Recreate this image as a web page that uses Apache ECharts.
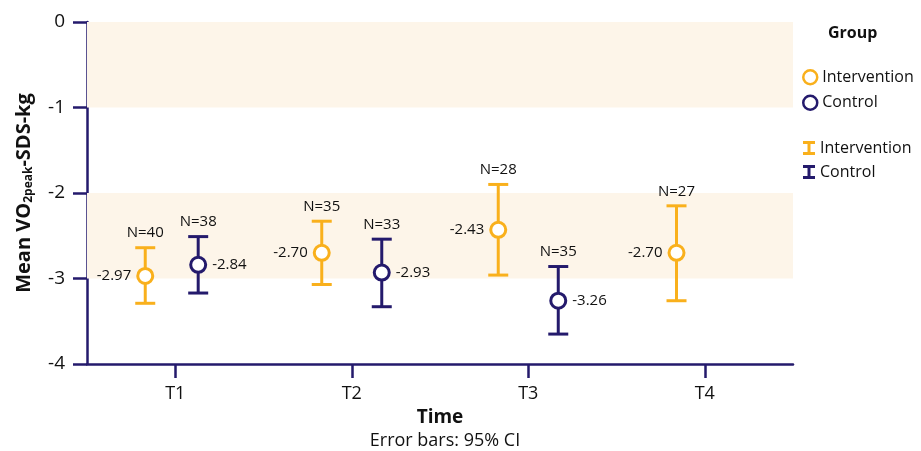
<!DOCTYPE html>
<html>
<head>
<meta charset="utf-8">
<script src="https://cdn.jsdelivr.net/npm/echarts@6/dist/echarts.min.js"></script>
<style>
  html, body { margin: 0; padding: 0; background: #fff; }
  #chart { width: 921px; height: 451px; }
</style>
</head>
<body>
<div id="chart"></div>
<script>
var chartDom = document.getElementById('chart');
var myChart = echarts.init(chartDom);
var option;

// data
const times = ['T1', 'T2', 'T3', 'T4'];
const interventionX = [0.83, 1.83, 2.83, 3.84];
const interventionMean = [-2.97, -2.70, -2.43, -2.70];
const interventionLow = [-3.29, -3.07, -2.96, -3.26];
const interventionHigh = [-2.64, -2.33, -1.90, -2.15];
const interventionN = [40, 35, 28, 27];
const controlX = [1.13, 2.17, 3.17];
const controlMean = [-2.84, -2.93, -3.26];
const controlLow = [-3.17, -3.33, -3.65];
const controlHigh = [-2.51, -2.54, -2.86];
const controlN = [38, 33, 35];
const bands = [[0, -1], [-2, -3]];

const orange = '#F9B01C';
const navy = '#241A6C';
const font = 'Open Sans';

function pts(xs, ys) {
    return xs.map(function (x, i) { return [x, ys[i]]; });
}
function bars(xs, lo, hi, n) {
    return xs.map(function (x, i) { return [x, lo[i], hi[i], n[i]]; });
}

function errorBar(color) {
    return function (params, api) {
        var top = api.coord([api.value(0), api.value(2)]);
        var bot = api.coord([api.value(0), api.value(1)]);
        var hw = 10;
        var st = { stroke: color, lineWidth: 3 };
        return {
            type: 'group',
            children: [
                { type: 'line', shape: { x1: top[0], y1: top[1], x2: bot[0], y2: bot[1] }, style: st },
                { type: 'line', shape: { x1: top[0] - hw, y1: top[1], x2: top[0] + hw, y2: top[1] }, style: st },
                { type: 'line', shape: { x1: bot[0] - hw, y1: bot[1], x2: bot[0] + hw, y2: bot[1] }, style: st },
                {
                    type: 'text',
                    style: {
                        text: 'N=' + api.value(3), x: top[0], y: top[1] - 7,
                        align: 'center', verticalAlign: 'bottom',
                        fontFamily: font, fontSize: 15, fill: '#111'
                    }
                }
            ]
        };
    };
}

const barIcon = 'path://M0,0H12V3H7.5V11H12V14H0V11H4.5V3H0Z';

option = {
    animation: false,
    textStyle: { fontFamily: font },
    title: [
        {
            text: 'Group', left: 823, top: 20,
            textStyle: { fontFamily: font, fontSize: 16, fontWeight: 'bold', color: '#111' }
        },
        {
            text: 'Error bars: 95% CI', left: 440, textAlign: 'center', top: 427,
            textStyle: { fontFamily: font, fontSize: 18, fontWeight: 'normal', color: '#111' }
        }
    ],
    legend: [
        {
            orient: 'vertical', left: 797, top: 64, itemWidth: 14, itemHeight: 14, itemGap: 9,
            textStyle: { fontFamily: font, fontSize: 16, color: '#111' },
            data: [
                { name: 'Intervention', icon: 'circle', itemStyle: { color: '#fff', borderColor: orange, borderWidth: 2.5 } },
                { name: 'Control', icon: 'circle', itemStyle: { color: '#fff', borderColor: navy, borderWidth: 2.5 } }
            ]
        },
        {
            orient: 'vertical', left: 798, top: 135, itemWidth: 12, itemHeight: 14, itemGap: 8,
            textStyle: { fontFamily: font, fontSize: 16, color: '#111' },
            formatter: function (name) { return name.replace(' CI', ''); },
            data: [
                { name: 'Intervention CI', icon: barIcon, itemStyle: { color: orange } },
                { name: 'Control CI', icon: barIcon, itemStyle: { color: navy } }
            ]
        }
    ],
    grid: { left: 87, right: 128, top: 22, bottom: 87, containLabel: false },
    xAxis: [
        {
            type: 'category',
            data: times,
            name: 'Time',
            nameLocation: 'middle',
            nameGap: 43,
            nameTextStyle: { fontFamily: font, fontSize: 19, fontWeight: 'bold', color: '#111' },
            axisLine: { show: true, onZero: false, lineStyle: { color: navy, width: 2.5 } },
            axisTick: { show: true, interval: 0, alignWithLabel: true, length: 14, lineStyle: { color: navy, width: 2.5 } },
            axisLabel: { fontFamily: font, fontSize: 18, color: '#111', margin: 21 },
            splitLine: { show: false }
        },
        {
            type: 'value', min: 0.5, max: 4.5, show: false
        }
    ],
    yAxis: {
        type: 'value',
        min: -4, max: 0, interval: 1,
        name: 'Mean VO{sub|2peak}-SDS-kg',
        nameLocation: 'middle',
        nameRotate: 90,
        nameGap: 52,
        nameTextStyle: {
            fontFamily: font, fontSize: 20, fontWeight: 'bold', color: '#111',
            rich: {
                sub: { fontFamily: font, fontSize: 12, fontWeight: 'bold', color: '#111', padding: [10, 0, 0, 0] }
            }
        },
        axisLine: { show: true, onZero: false, lineStyle: { color: navy, width: 2.5 } },
        axisTick: { show: true, length: 14, lineStyle: { color: navy, width: 2.5 } },
        axisLabel: { fontFamily: font, fontSize: 19, color: '#111', margin: 22 },
        splitLine: { show: false }
    },
    series: [
        {
            name: 'bands', type: 'line', xAxisIndex: 1, data: [], z: 0,
            markArea: {
                silent: true,
                itemStyle: { color: '#FDF5E9' },
                data: bands.map(function (b) { return [{ yAxis: b[0] }, { yAxis: b[1] }]; })
            }
        },
        {
            name: 'Intervention CI', type: 'custom', xAxisIndex: 1, z: 3,
            itemStyle: { color: orange },
            renderItem: errorBar(orange),
            data: bars(interventionX, interventionLow, interventionHigh, interventionN)
        },
        {
            name: 'Control CI', type: 'custom', xAxisIndex: 1, z: 3,
            itemStyle: { color: navy },
            renderItem: errorBar(navy),
            data: bars(controlX, controlLow, controlHigh, controlN)
        },
        {
            name: 'Intervention', type: 'scatter', xAxisIndex: 1, z: 4,
            symbol: 'circle', symbolSize: 15,
            itemStyle: { color: '#fff', borderColor: orange, borderWidth: 3, opacity: 1 },
            label: {
                show: true, position: 'left', distance: 5,
                fontFamily: font, fontSize: 15, color: '#111',
                formatter: function (p) { return p.value[1].toFixed(2); }
            },
            data: pts(interventionX, interventionMean)
        },
        {
            name: 'Control', type: 'scatter', xAxisIndex: 1, z: 4,
            symbol: 'circle', symbolSize: 15,
            itemStyle: { color: '#fff', borderColor: navy, borderWidth: 3, opacity: 1 },
            label: {
                show: true, position: 'right', distance: 5,
                fontFamily: font, fontSize: 15, color: '#111',
                formatter: function (p) { return p.value[1].toFixed(2); }
            },
            data: pts(controlX, controlMean)
        }
    ]
};

option && myChart.setOption(option);
</script>
</body>
</html>
